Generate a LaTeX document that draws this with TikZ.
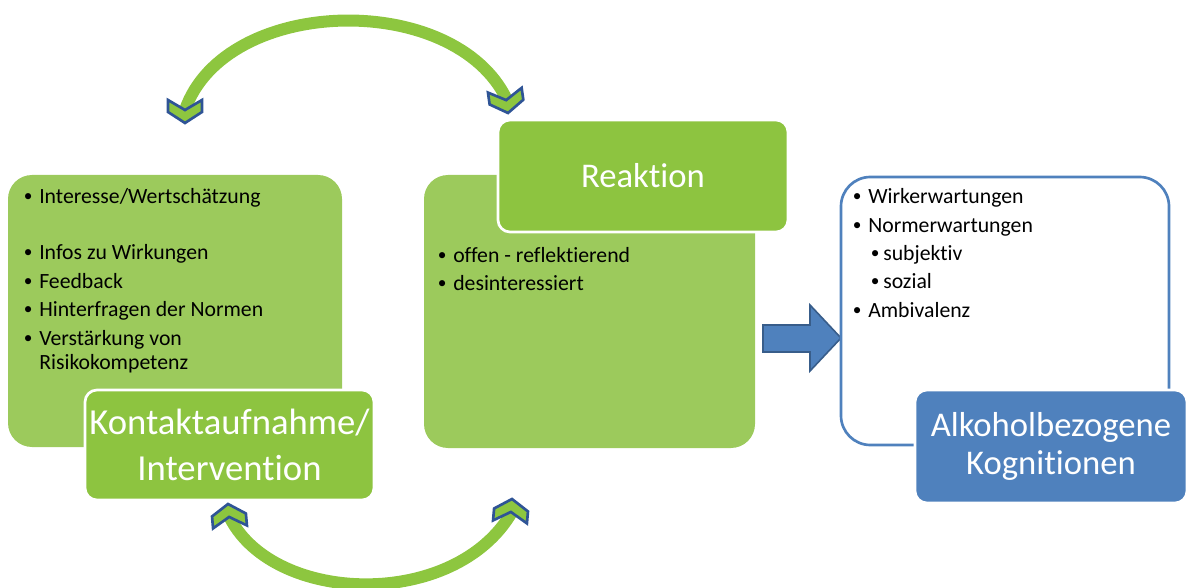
\documentclass[tikz,border=0pt]{standalone}
\usepackage{fontspec}
\setmainfont{Carlito}[Ligatures=NoCommon]
\definecolor{boxgreen}{RGB}{156,202,92}
\definecolor{titlegreen}{RGB}{141,196,64}
\definecolor{arcgreen}{RGB}{141,198,63}
\definecolor{chevblue}{RGB}{47,84,150}
\definecolor{ablue}{RGB}{79,129,189}
\definecolor{ablueD}{RGB}{56,93,138}
\newcommand{\smallbul}{\raisebox{1.1pt}{\fontsize{13}{13}\selectfont\textbullet}}
\newcommand{\bul}{\makebox[16.5pt][c]{\smallbul}}
\newcommand{\bulb}{\makebox[12pt][c]{\smallbul}}
\tikzset{
  contentbox/.style={fill=boxgreen, rounded corners=18pt, inner sep=0pt},
  titlebox/.style={fill=titlegreen, draw=white, line width=2pt, rounded corners=9pt,
    text=white, align=center, inner sep=0pt},
  bluetitle/.style={fill=ablue, draw=white, line width=2pt, rounded corners=9pt,
    text=white, align=center, inner sep=0pt},
  item/.style={anchor=west, inner sep=0pt, font=\fontsize{16.3}{21}\selectfont,
    text height=0.75em, text depth=0.25em, text=black},
  arcline/.style={draw=arcgreen, line width=9pt},
  chev/.style={fill=arcgreen, draw=chevblue, line width=2pt, line join=miter},
  chevdown/.pic={\path[chev] (-17,-23) -- (0,-13) -- (17,-23) -- (17,-11) -- (0,0) -- (-17,-11) -- cycle;}
}
\begin{document}
\begin{tikzpicture}[x=0.75pt,y=-0.75pt]
\useasboundingbox (0,0) rectangle (1190,588);

% arcs
\coordinate (ta) at (185,110);
\coordinate (tb) at (507,100);
\coordinate (ba) at (230,518);
\coordinate (bb) at (512,512);
\draw[arcline] (ta) .. controls (225,-5) and (455,-10) .. (tb);
\draw[arcline] (ba) .. controls (275,605) and (455,610) .. (bb);
\pic at (185,123) {chevdown};
\pic[rotate=8] at (508,113) {chevdown};
\pic[rotate=185] at (228,504) {chevdown};
\pic[rotate=175] at (512,499) {chevdown};

% left block
\node[contentbox, minimum width=250.5pt, minimum height=204pt] (kbox) at (175,311) {};
\node[item] (k1) at (17,200) {\bul Interesse/Wertschätzung};
\node[item] (k2) at (17,256) {\bul Infos zu Wirkungen};
\node[item] (k3) at (17,285) {\bul Feedback};
\node[item] (k4) at (17,313) {\bul Hinterfragen der Normen};
\node[item] (k5) at (17,342) {\bul Verstärkung von};
\node[item] (k6) at (17,366) {\hspace*{16.5pt}Risikokompetenz};
\node[titlebox, minimum width=216.75pt, minimum height=82.5pt,
  font=\fontsize{27.5}{35}\selectfont] (ktitle) at (229.5,445) {Kontaktaufnahme/\\Intervention};

% middle block
\node[contentbox, minimum width=248.25pt, minimum height=204.75pt] (rbox) at (589.5,311.5) {};
\node[titlebox, minimum width=217.5pt, minimum height=84pt,
  font=\fontsize{26}{32}\selectfont] (rtitle) at (643,176) {Reaktion};
\node[item] (r1) at (431,259) {\bul offen - reflektierend};
\node[item] (r2) at (431,287) {\bul desinteressiert};

% block arrow
\path[fill=ablue, draw=ablueD, line width=1.2pt, line join=miter]
  (763,325) -- (810,325) -- (810,305) -- (841,338) -- (810,371) -- (810,352) -- (763,352) -- cycle;

% right block
\node[draw=ablue, line width=2pt, fill=white, rounded corners=22pt, inner sep=0pt,
  minimum width=246pt, minimum height=201pt] (abox) at (1005,311) {};
\node[item] (a1) at (846,200) {\bul Wirkerwartungen};
\node[item] (a2) at (846,229) {\bul Normerwartungen};
\node[item] (a3) at (867,257) {\bulb subjektiv};
\node[item] (a4) at (867,285) {\bulb sozial};
\node[item] (a5) at (846,314) {\bul Ambivalenz};
\node[bluetitle, minimum width=204pt, minimum height=84.75pt,
  font=\fontsize{26}{28.5}\selectfont] (atitle) at (1051,446.5) {Alkoholbezogene\\Kognitionen};
\end{tikzpicture}
\end{document}
